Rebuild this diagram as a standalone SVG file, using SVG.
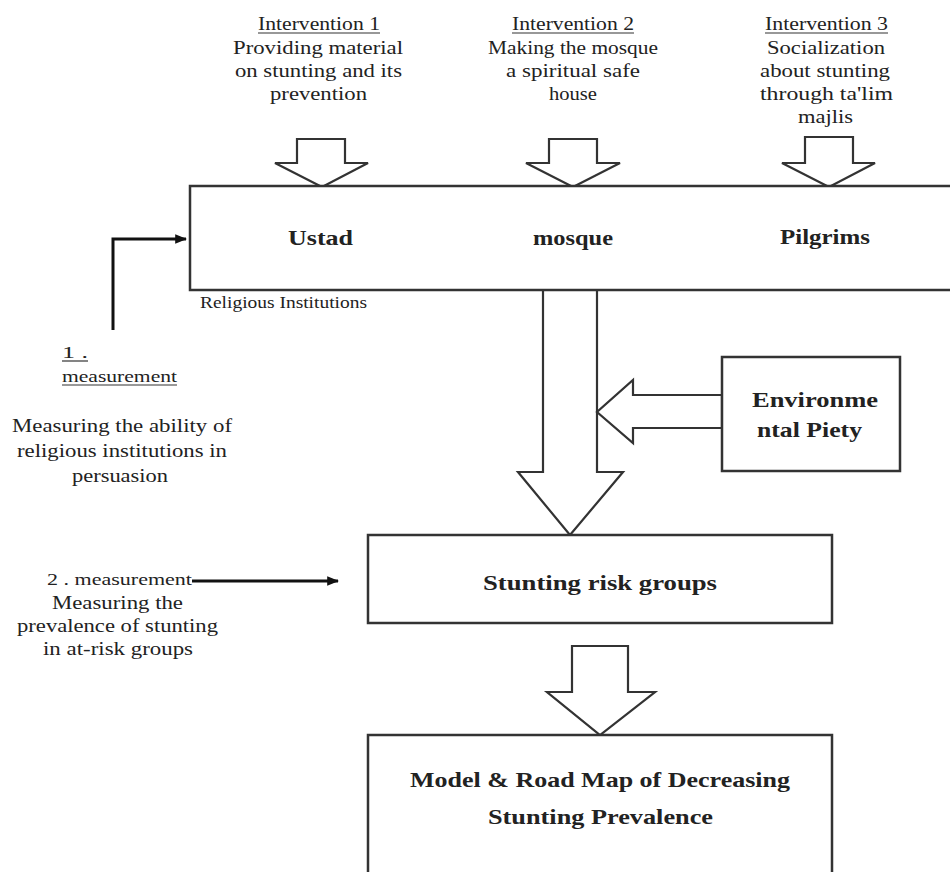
<svg xmlns="http://www.w3.org/2000/svg" width="950" height="872" viewBox="0 0 950 872">
<style>
  .t{font-family:"Liberation Serif","DejaVu Serif","Times New Roman",serif;font-size:19px;fill:#222;}
  .b{font-family:"Liberation Serif","DejaVu Serif","Times New Roman",serif;font-size:21px;font-weight:bold;fill:#222;}
  .s{font-family:"Liberation Serif","DejaVu Serif","Times New Roman",serif;font-size:17px;fill:#222;}
  .box{fill:#fff;stroke:#333;stroke-width:2.5;}
  .blk{fill:#fff;stroke:#333;stroke-width:2.2;stroke-linejoin:miter;}
  .ul{stroke:#333;stroke-width:1.2;}
  .con{fill:none;stroke:#111;stroke-width:3;}
</style>
<defs>
  <marker id="ah" viewBox="0 0 10 10" refX="9" refY="5" markerWidth="4" markerHeight="4" orient="auto" markerUnits="strokeWidth">
    <path d="M0,1 L10,5 L0,9 Z" fill="#111"/>
  </marker>
</defs>
<rect width="950" height="872" fill="#fff"/>

<g id="intervention1">
  <text class="t" x="258" y="30" textLength="122" lengthAdjust="spacingAndGlyphs">Intervention 1</text>
  <line class="ul" x1="258" y1="33" x2="380" y2="33"/>
  <text class="t" x="233" y="54" textLength="170" lengthAdjust="spacingAndGlyphs">Providing material</text>
  <text class="t" x="235" y="77" textLength="167" lengthAdjust="spacingAndGlyphs">on stunting and its</text>
  <text class="t" x="270" y="100" textLength="97" lengthAdjust="spacingAndGlyphs">prevention</text>
</g>
<g id="intervention2">
  <text class="t" x="512" y="30" textLength="122" lengthAdjust="spacingAndGlyphs">Intervention 2</text>
  <line class="ul" x1="512" y1="33" x2="634" y2="33"/>
  <text class="t" x="488" y="54" textLength="170" lengthAdjust="spacingAndGlyphs">Making the mosque</text>
  <text class="t" x="506" y="77" textLength="134" lengthAdjust="spacingAndGlyphs">a spiritual safe</text>
  <text class="t" x="549" y="100" textLength="48" lengthAdjust="spacingAndGlyphs">house</text>
</g>
<g id="intervention3">
  <text class="t" x="765" y="30" textLength="123" lengthAdjust="spacingAndGlyphs">Intervention 3</text>
  <line class="ul" x1="765" y1="33" x2="888" y2="33"/>
  <text class="t" x="767" y="54" textLength="118" lengthAdjust="spacingAndGlyphs">Socialization</text>
  <text class="t" x="760" y="77" textLength="130" lengthAdjust="spacingAndGlyphs">about stunting</text>
  <text class="t" x="760" y="100" textLength="133" lengthAdjust="spacingAndGlyphs">through ta'lim</text>
  <text class="t" x="798" y="123" textLength="55" lengthAdjust="spacingAndGlyphs">majlis</text>
</g>

<g id="connectors">
  <polygon class="blk" points="297,139 345,139 345,163 368,163 322,187 275,163 297,163"/>
  <polygon class="blk" points="549,139 597,139 597,163 620,163 573,187 526,163 549,163"/>
  <polygon class="blk" points="805,137 853,137 853,163 875,163 829,187 782,163 805,163"/>
  <polygon class="blk" points="543,289 597,289 597,472 623,472 570,535 518,472 543,472"/>
  <polygon class="blk" points="722,395 633,395 633,380 597,412 633,443 633,428 722,428"/>
  <polygon class="blk" points="572,646 628,646 628,692 655,692 600,735 547,692 572,692"/>
  <path class="con" d="M113,330 V239 H186" marker-end="url(#ah)"/>
  <path class="con" d="M192,581 H338" marker-end="url(#ah)"/>
</g>

<g id="religious-institutions">
  <rect class="box" x="190" y="186" width="780" height="104"/>
  <text class="b" x="288" y="245" textLength="65" lengthAdjust="spacingAndGlyphs">Ustad</text>
  <text class="b" x="533" y="245" textLength="80" lengthAdjust="spacingAndGlyphs">mosque</text>
  <text class="b" x="780" y="244" textLength="90" lengthAdjust="spacingAndGlyphs">Pilgrims</text>
  <text class="s" x="200" y="308" textLength="167" lengthAdjust="spacingAndGlyphs">Religious Institutions</text>
</g>

<g id="environmental-piety">
  <rect class="box" x="722" y="357" width="178" height="114"/>
  <text class="b" x="752" y="407" textLength="126" lengthAdjust="spacingAndGlyphs">Environme</text>
  <text class="b" x="757" y="437" textLength="105" lengthAdjust="spacingAndGlyphs">ntal Piety</text>
</g>

<g id="measurement1">
  <text class="s" x="62" y="358" textLength="26" lengthAdjust="spacingAndGlyphs">1 .</text>
  <line class="ul" x1="62" y1="361" x2="88" y2="361"/>
  <text class="s" x="62" y="382" textLength="115" lengthAdjust="spacingAndGlyphs">measurement</text>
  <line class="ul" x1="62" y1="385" x2="177" y2="385"/>
  <text class="t" x="12" y="432" textLength="220" lengthAdjust="spacingAndGlyphs">Measuring the ability of</text>
  <text class="t" x="17" y="457" textLength="210" lengthAdjust="spacingAndGlyphs">religious institutions in</text>
  <text class="t" x="72" y="482" textLength="96" lengthAdjust="spacingAndGlyphs">persuasion</text>
</g>

<g id="measurement2">
  <text class="s" x="47" y="585" textLength="145" lengthAdjust="spacingAndGlyphs">2 . measurement</text>
  <text class="t" x="52" y="609" textLength="131" lengthAdjust="spacingAndGlyphs">Measuring the</text>
  <text class="t" x="17" y="632" textLength="201" lengthAdjust="spacingAndGlyphs">prevalence of stunting</text>
  <text class="t" x="43" y="655" textLength="150" lengthAdjust="spacingAndGlyphs">in at-risk groups</text>
</g>

<g id="stunting-risk-groups">
  <rect class="box" x="368" y="535" width="464" height="88"/>
  <text class="b" x="483" y="590" textLength="234" lengthAdjust="spacingAndGlyphs">Stunting risk groups</text>
</g>

<g id="model-road-map">
  <rect class="box" x="368" y="735" width="464" height="150"/>
  <text class="b" x="410" y="787" textLength="380" lengthAdjust="spacingAndGlyphs">Model &amp; Road Map of Decreasing</text>
  <text class="b" x="488" y="824" textLength="225" lengthAdjust="spacingAndGlyphs">Stunting Prevalence</text>
</g>
</svg>
